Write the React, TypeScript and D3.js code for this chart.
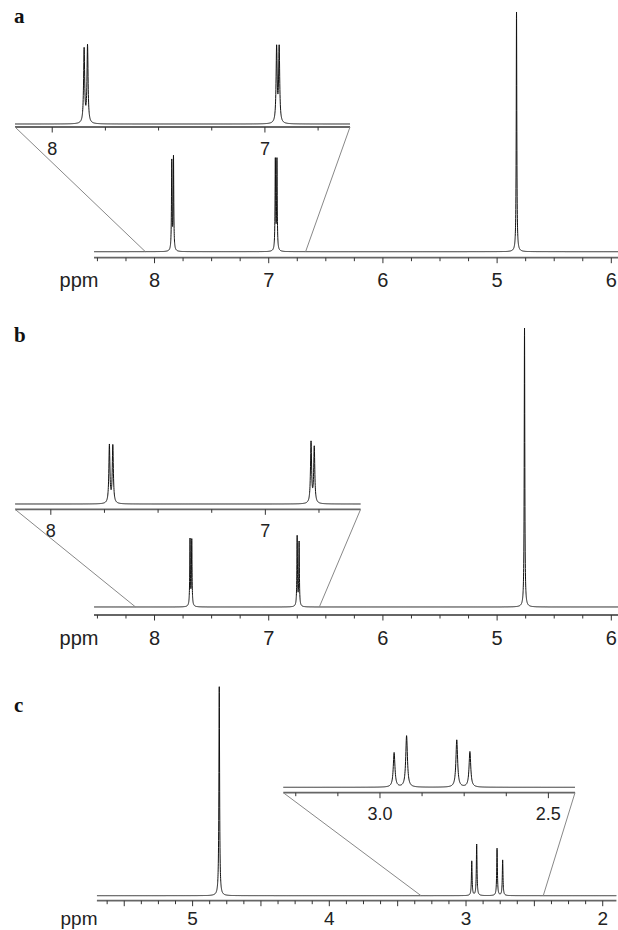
import React, { useEffect, useRef } from 'react';
import * as d3 from 'd3';

// peak positions (ppm) and relative heights
const shiftsA = [7.849, 7.834, 6.942, 6.928, 4.83];
const heightsA = [37.2, 38.8, 37.6, 37.6, 100];
const insetShiftsA = [7.85, 7.834, 6.945, 6.933];

const shiftsB = [7.689, 7.674, 6.751, 6.734, 4.76];
const heightsB = [23.8, 23.6, 25.0, 22.9, 100];
const insetShiftsB = [7.727, 7.711, 6.787, 6.772];

const shiftsC = [2.958, 2.922, 2.773, 2.732, 4.805];
const heightsC = [16.5, 24.6, 22.6, 17.0, 100];
const insetShiftsC = [2.958, 2.921, 2.772, 2.733];

const tickValsAB = [8, 7, 6, 5, 4];
const tickTextAB = ['8', '7', '6', '5', '6'];
const insetTickValsAB = [8, 7];
const insetTickTextAB = ['8', '7'];
const tickValsC = [5, 4, 3, 2];
const tickTextC = ['5', '4', '3', '2'];
const insetTickValsC = [3.0, 2.5];
const insetTickTextC = ['3.0', '2.5'];

const HWHM = 0.003;

function spectrum(shifts, heights, lo, hi) {
  const pts = d3.range(lo, hi, 0.0005)
    .concat(shifts.filter(s => s > lo && s < hi))
    .sort(d3.ascending);
  return pts.map(p => [p, d3.sum(shifts, (s, i) => heights[i] / (1 + ((p - s) / HWHM) ** 2))]);
}

function tickRange(a, b, step) {
  const lo = Math.min(a, b), hi = Math.max(a, b);
  return d3.range(Math.ceil(lo / step - 1e-9), Math.floor(hi / step + 1e-9) + 1).map(k => k * step);
}

const panels = [
  {
    label: 'a', labelY: 23,
    shifts: shiftsA, heights: heightsA, insetShifts: insetShiftsA,
    main: { extent: [8.53, 3.93], px: [94, 619.3], base: 251.7, axisY: 257.7, top: 12, step: 0.25, major: 1, ticks: tickValsAB, text: tickTextAB, fs: 20, dy: 29 },
    inset: { extent: [8.175, 6.6], px: [15, 350], base: 124, axisY: 127, top: 124 - 199, step: 0.25, major: 1, ticks: insetTickValsAB, text: insetTickTextAB, fs: 18, dy: 28 },
    connect: [8.08, 6.677],
  },
  {
    label: 'b', labelY: 342,
    shifts: shiftsB, heights: heightsB, insetShifts: insetShiftsB,
    main: { extent: [8.53, 3.93], px: [94, 619.3], base: 607, axisY: 615, top: 328, step: 0.25, major: 1, ticks: tickValsAB, text: tickTextAB, fs: 20, dy: 30 },
    inset: { extent: [8.167, 6.556], px: [15, 360.6], base: 504, axisY: 509.3, top: 504 - 244, step: 0.25, major: 1, ticks: insetTickValsAB, text: insetTickTextAB, fs: 18, dy: 28 },
    connect: [8.166, 6.557],
  },
  {
    label: 'c', labelY: 712,
    shifts: shiftsC, heights: heightsC, insetShifts: insetShiftsC,
    main: { extent: [5.7, 1.9], px: [96.9, 616.4], base: 895.7, axisY: 900.7, top: 686.7, step: 0.125, major: 0.5, ticks: tickValsC, text: tickTextC, fs: 19, dy: 24 },
    inset: { extent: [3.287, 2.421], px: [283.3, 575], base: 787.3, axisY: 792.7, top: 787.3 - 209, step: 0.125, major: 0.5, ticks: insetTickValsC, text: insetTickTextC, fs: 18, dy: 27 },
    connect: [3.329, 2.435],
  },
];

function drawPlot(g, cfg, shifts, heights) {
  const x = d3.scaleLinear().domain(cfg.extent).range(cfg.px);
  const y = d3.scaleLinear().domain([0, 100]).range([cfg.base, cfg.top]);
  const lo = Math.min(...cfg.extent), hi = Math.max(...cfg.extent);

  // axis line
  g.append('line')
    .attr('x1', cfg.px[0]).attr('x2', cfg.px[1])
    .attr('y1', cfg.axisY).attr('y2', cfg.axisY)
    .attr('stroke', '#666').attr('stroke-width', 1.8);

  // ticks
  tickRange(lo, hi, cfg.step).forEach(v => {
    const isMajor = Math.abs(v / cfg.major - Math.round(v / cfg.major)) < 1e-6;
    g.append('line')
      .attr('x1', x(v)).attr('x2', x(v))
      .attr('y1', cfg.axisY).attr('y2', cfg.axisY + (isMajor ? 5.5 : 3.5))
      .attr('stroke', '#333').attr('stroke-width', 1);
  });

  // tick labels
  cfg.ticks.forEach((v, i) => {
    g.append('text')
      .attr('x', x(v)).attr('y', cfg.axisY + cfg.dy)
      .attr('text-anchor', 'middle')
      .attr('font-family', 'Liberation Sans, Arial, sans-serif')
      .attr('font-size', cfg.fs)
      .attr('fill', '#222')
      .text(cfg.text[i]);
  });

  // spectrum trace
  const line = d3.line().x(d => x(d[0])).y(d => y(d[1]));
  g.append('path')
    .attr('d', line(spectrum(shifts, heights, lo, hi)))
    .attr('fill', 'none')
    .attr('stroke', '#111')
    .attr('stroke-width', 1)
    .attr('stroke-linejoin', 'round');

  return x;
}

export default function App() {
  const svgRef = useRef(null);

  useEffect(() => {
    const svg = d3.select(svgRef.current);
    svg.selectAll('*').remove();

    panels.forEach(p => {
      const g = svg.append('g');

      g.append('text')
        .attr('x', 14).attr('y', p.labelY)
        .attr('font-family', 'Liberation Serif, Times New Roman, serif')
        .attr('font-weight', 'bold')
        .attr('font-size', 21)
        .attr('fill', '#111')
        .text(p.label);

      const xMain = drawPlot(g, p.main, p.shifts, p.heights);
      const xInset = drawPlot(g, p.inset, p.insetShifts, p.heights.slice(0, p.insetShifts.length));

      // ppm label
      g.append('text')
        .attr('x', 79).attr('y', p.main.axisY + p.main.dy)
        .attr('text-anchor', 'middle')
        .attr('font-family', 'Liberation Sans, Arial, sans-serif')
        .attr('font-size', p.main.fs)
        .attr('fill', '#222')
        .text('ppm');

      // zoom connectors
      [0, 1].forEach(i => {
        g.append('line')
          .attr('x1', xInset(p.inset.extent[i])).attr('y1', p.inset.axisY)
          .attr('x2', xMain(p.connect[i])).attr('y2', p.main.base)
          .attr('stroke', '#888').attr('stroke-width', 1);
      });
    });
  }, []);

  return (
    <svg
      ref={svgRef}
      width={618}
      height={930}
      style={{ position: 'absolute', left: 0, top: 0, background: 'white' }}
    />
  );
}
